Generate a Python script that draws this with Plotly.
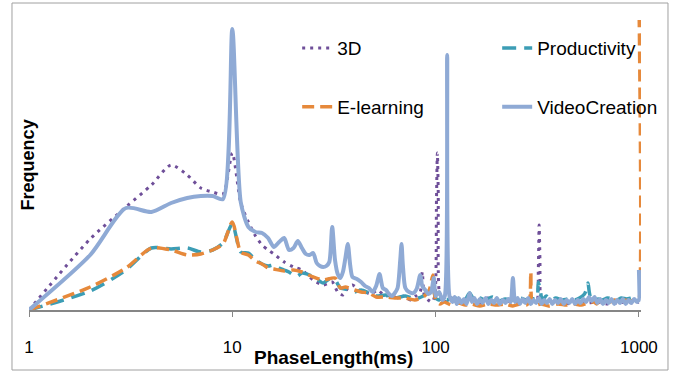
import plotly.graph_objects as go

# ---------------- data (frequency, arbitrary units; y axis has no labels) ----------------
x_ticks = [1, 10, 100, 1000]
x_tick_labels = ["1", "10", "100", "1000"]

series_names = ["3D", "Productivity", "E-learning", "VideoCreation"]

d3_x = [1, 2, 3, 4, 5, 6, 7, 8, 9, 10, 11, 12, 13, 14, 15, 16, 18, 20, 22, 25, 28, 31, 33, 35, 37, 39,
        42, 45, 48, 52, 56, 60, 65, 70, 75, 80, 84, 86, 88, 92, 96, 99, 101, 102, 103, 104, 107, 110,
        115, 120, 130, 140, 150, 165, 180, 200, 220, 240, 260, 280, 300, 315, 320, 323, 326, 329, 335,
        350, 380, 420, 460, 500, 560, 620, 700, 780, 860, 940, 1000]
d3_freq = [0, 71, 103, 125, 145, 135, 122, 118, 116, 157, 107, 88, 74, 65, 60, 56, 48, 43, 40, 30, 25, 28,
           18, 15, 22, 25, 20, 18, 16, 20, 14, 15, 12, 14, 10, 14, 18, 38, 15, 10, 8, 14, 110, 157, 120,
           20, 12, 9, 8, 12, 7, 9, 10, 7, 12, 8, 10, 7, 9, 8, 10, 9, 40, 85, 50, 10, 8, 9, 7, 8, 6, 8, 7,
           8, 6, 7, 8, 7, 8]

prod_x = [1, 2, 3, 4, 5, 6, 7, 8, 9, 10, 11, 12, 13, 14, 15, 16, 17, 18, 19, 20, 21, 22, 24, 26, 28, 30,
          32, 34, 36, 40, 43, 47, 51, 57, 63, 71, 79, 87, 93, 97, 100, 104, 108, 113, 118, 124, 130, 140,
          147, 155, 165, 175, 190, 205, 220, 240, 260, 280, 300, 315, 320, 327, 335, 350, 370, 390, 420,
          450, 480, 510, 540, 555, 562, 570, 580, 600, 630, 660, 700, 740, 780, 820, 870, 920, 970, 1000]
prod_freq = [0, 19, 40, 62, 61, 62, 58, 60, 67, 86, 58, 57, 50, 46, 44, 45, 42, 40, 38, 35, 34, 37, 35, 31,
             27, 31, 30, 22, 21, 18, 20, 17, 14, 15, 12, 14, 11, 14, 18, 22, 12, 10, 14, 9, 12, 10, 13,
             11, 17, 10, 12, 10, 13, 9, 11, 10, 12, 10, 11, 12, 28, 20, 10, 14, 10, 12, 10, 11, 10, 12,
             16, 22, 27, 18, 12, 10, 11, 10, 12, 11, 10, 12, 11, 12, 13, 13]

elearn_x = [1, 2, 3, 4, 5, 6, 7, 8, 9, 10, 11, 12, 13, 14, 15, 16, 18, 20, 22, 25, 28, 32, 34, 36, 40, 43,
            47, 51, 57, 63, 71, 79, 87, 93, 97, 100, 105, 110, 120, 130, 140, 150, 165, 180, 200, 220,
            240, 260, 280, 290, 294, 298, 310, 330, 360, 400, 440, 480, 520, 560, 600, 620, 640, 680, 720,
            760, 800, 850, 900, 950, 990, 1000, 1000]
elearn_freq = [0, 23, 42, 62, 60, 55, 56, 60, 66, 88, 58, 55, 49, 46, 42, 41, 39, 40, 38, 33, 30, 32, 22,
               23, 20, 18, 17, 13, 13, 12, 12, 10, 13, 20, 35, 10, 6, 8, 5, 7, 5, 6, 4, 6, 5, 6, 4, 6, 5,
               10, 38, 8, 5, 6, 4, 6, 5, 6, 5, 7, 8, 6, 9, 10, 8, 10, 9, 10, 9, 10, 10, 10, 320]

video_x = [1, 2, 3, 4, 5, 6, 7, 8, 9, 10, 11, 12, 13, 14, 15, 16, 17, 18, 19, 20, 21, 22, 23, 24, 25, 26,
           27, 28, 29, 30, 31, 32, 33, 34, 35, 36, 37, 38, 39, 41, 43, 45, 47, 49, 51, 53, 55, 57, 59, 61,
           63, 65, 67, 68, 69, 71, 74, 78, 81, 84, 86, 89, 92, 95, 98, 100, 104, 108, 111, 114, 117,
           121, 124, 127, 130, 134, 138, 142, 147, 151, 155, 160, 165, 170, 176, 182, 188, 194, 200, 207,
           214, 221, 228, 234, 240, 246, 253, 260, 268, 276, 285, 294, 303, 312, 322, 332, 342, 353, 364,
           375, 387, 400, 413, 427, 441, 455, 470, 485, 500, 516, 533, 550, 568, 586, 605, 625, 645, 666,
           688, 710, 733, 757, 782, 808, 834, 861, 889, 918, 948, 979, 995, 1000, 1000]
video_freq = [0, 55, 102, 98, 107, 112, 114, 114, 111, 281, 108, 83, 78, 77, 72, 63, 68, 72, 60, 62, 69,
              62, 56, 55, 57, 47, 44, 43, 44, 48, 83, 50, 36, 32, 38, 52, 66, 45, 33, 31, 28, 24, 22, 18,
              24, 36, 22, 20, 16, 14, 17, 22, 50, 66, 45, 22, 18, 17, 22, 35, 24, 20, 16, 18, 32, 14, 18,
              10, 14, 255, 14,
              8, 13, 6, 12, 7, 11, 6, 17, 8, 12, 6, 11, 7, 12, 6, 10, 7, 12, 6, 10, 7, 11, 8, 32, 8, 12,
              6, 11, 7, 12, 6, 10, 7, 12, 6, 10, 7, 11, 6, 10, 7, 11, 6, 10, 7, 11, 6, 10, 7, 11, 8, 13,
              9, 13, 7, 11, 6, 10, 7, 11, 6, 10, 7, 11, 6, 10, 7, 11, 8, 10, 10, 40]

# ---------------- styling ----------------
FONT = "Liberation Sans"
colors = {"3D": "#6F4F99", "Productivity": "#3C9DB5", "E-learning": "#E6893B", "VideoCreation": "#8FAAD5"}

fig = go.Figure()
fig.add_trace(go.Scatter(x=d3_x, y=d3_freq, name="3D", mode="lines", legend="legend",
                         line=dict(color=colors["3D"], width=3, dash="3px,5px", shape="spline", smoothing=0.7)))
fig.add_trace(go.Scatter(x=prod_x, y=prod_freq, name="Productivity", mode="lines", legend="legend",
                         line=dict(color=colors["Productivity"], width=3.5, dash="14px,8px", shape="spline",
                                   smoothing=0.7)))
fig.add_trace(go.Scatter(x=elearn_x, y=elearn_freq, name="E-learning", mode="lines", legend="legend2",
                         line=dict(color=colors["E-learning"], width=3.5, dash="12px,6px", shape="spline",
                                   smoothing=0.7)))
fig.add_trace(go.Scatter(x=video_x, y=video_freq, name="VideoCreation", mode="lines", legend="legend2",
                         line=dict(color=colors["VideoCreation"], width=4, shape="spline", smoothing=0.7)))

legend_common = dict(orientation="h", xref="paper", yref="paper", xanchor="left", yanchor="middle",
                     bgcolor="rgba(0,0,0,0)", borderwidth=0, font=dict(family=FONT, size=19, color="#000000"),
                     entrywidth=155, entrywidthmode="pixels", traceorder="normal", itemclick=False)

fig.update_layout(
    width=675, height=372,
    margin=dict(l=29, r=34, t=20, b=62, autoexpand=False),
    paper_bgcolor="white", plot_bgcolor="white",
    font=dict(family=FONT, color="#000000"),
    legend=dict(legend_common, x=0.4382, y=0.903),
    legend2=dict(legend_common, x=0.4382, y=0.70),
    xaxis=dict(type="log", range=[0, 3.0103], tickmode="array", tickvals=x_ticks, ticktext=x_tick_labels,
               showline=True, linecolor="#868686", linewidth=1.5, ticks="outside", ticklen=5,
               tickcolor="#868686", tickwidth=1, showgrid=False, zeroline=False, ticklabelstandoff=16,
               tickfont=dict(family=FONT, size=17, color="#000000")),
    yaxis=dict(range=[0, 290], showline=False, showticklabels=False, ticks="", showgrid=False,
               zeroline=False),
    shapes=[dict(type="rect", xref="paper", yref="paper", x0=-0.0278, x1=1.0441, y0=-0.2069, y1=1.0586,
                 line=dict(color="#A0A0A0", width=1), fillcolor="rgba(0,0,0,0)", layer="below")],
    annotations=[
        dict(text="<b>PhaseLength(ms)</b>", xref="paper", yref="paper", x=0.498, y=-0.1655,
             xanchor="center", yanchor="middle", showarrow=False, font=dict(family=FONT, size=19)),
        dict(text="<b>Frequency</b>", xref="paper", yref="paper", x=-0.001, y=0.5, textangle=-90,
             xanchor="center", yanchor="middle", showarrow=False, font=dict(family=FONT, size=18)),
    ],
)

fig.write_html("out.html")
